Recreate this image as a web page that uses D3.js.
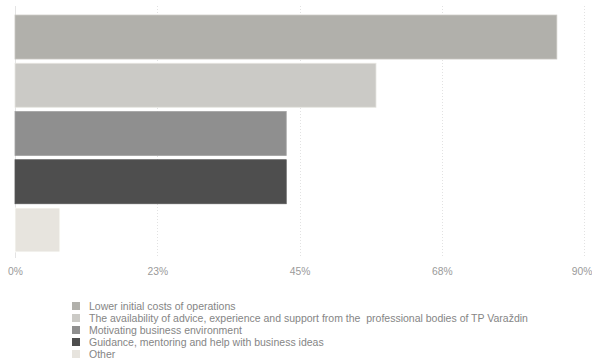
<!DOCTYPE html>
<html>
<head>
<meta charset="utf-8">
<script src="https://cdn.jsdelivr.net/npm/d3@7"></script>
<style>
  html, body { margin: 0; padding: 0; background: #fff; }
  svg { display: block; font-family: "Liberation Sans", Arial, Helvetica, sans-serif; }
</style>
</head>
<body>
<svg id="chart" width="592" height="362"></svg>
<script>
// Reasons for choosing the technology park (share of respondents, %)
const categories = [
  "Lower initial costs of operations",
  "The availability of advice, experience and support from the  professional bodies of TP Varaždin",
  "Motivating business environment",
  "Guidance, mentoring and help with business ideas",
  "Other"
];
const values = [85.7, 57.1, 42.9, 42.9, 7.1];
const colors = ["#b1b0ab", "#cbcac6", "#8f8f8f", "#4e4e4e", "#e7e4de"];
const tickValues = [0, 22.5, 45, 67.5, 90];
const tickLabels = ["0%", "23%", "45%", "68%", "90%"];

const svg = d3.select("#chart");

const x = d3.scaleLinear().domain([0, 90]).range([15, 584]);
const y = d3.scaleBand().domain(categories).range([10.7, 256.3])
  .paddingInner(0.088).paddingOuter(0.09);

// dotted vertical gridlines
svg.append("g")
  .selectAll("line")
  .data(tickValues.slice(1))
  .join("line")
  .attr("x1", d => Math.round(x(d)) + 0.5)
  .attr("x2", d => Math.round(x(d)) + 0.5)
  .attr("y1", 6)
  .attr("y2", 258)
  .attr("stroke", "#e2e2e2")
  .attr("stroke-width", 1)
  .attr("stroke-dasharray", "1,2");

// left baseline
svg.append("line")
  .attr("x1", x(0) + 0.5).attr("x2", x(0) + 0.5)
  .attr("y1", 6).attr("y2", 258)
  .attr("stroke", "#e4e4e4");

// bars
svg.append("g")
  .selectAll("rect")
  .data(categories)
  .join("rect")
  .attr("x", x(0))
  .attr("y", d => y(d))
  .attr("width", (d, i) => x(values[i]) - x(0))
  .attr("height", y.bandwidth())
  .attr("fill", (d, i) => colors[i])
  .attr("stroke", (d, i) => d3.color(colors[i]).brighter(0.35))
  .attr("stroke-width", 0.8);

// x-axis tick labels
const axis = d3.axisBottom(x)
  .tickValues(tickValues)
  .tickFormat((d, i) => tickLabels[i])
  .tickSize(0)
  .tickPadding(0);

const gx = svg.append("g")
  .attr("transform", "translate(0,268)")
  .call(axis);
gx.select(".domain").remove();
gx.selectAll("text")
  .attr("fill", "#9a9a9a")
  .attr("font-size", "10.3px")
  .attr("font-family", "'Liberation Sans', Arial, sans-serif");
// keep the last label inside the right edge
gx.selectAll(".tick").filter((d, i, n) => i === n.length - 1)
  .select("text").attr("dx", -2.5);

// legend
const legend = svg.append("g")
  .selectAll("g")
  .data(categories)
  .join("g")
  .attr("transform", (d, i) => `translate(72,${306 + i * 12})`);

legend.append("rect")
  .attr("x", 0).attr("y", -4)
  .attr("width", 8).attr("height", 8)
  .attr("fill", (d, i) => colors[i]);

legend.append("text")
  .attr("x", 17)
  .attr("y", 3.5)
  .attr("fill", "#858585")
  .attr("font-size", "10.5px")
  .style("white-space", "pre")
  .text(d => d);
</script>
</body>
</html>
